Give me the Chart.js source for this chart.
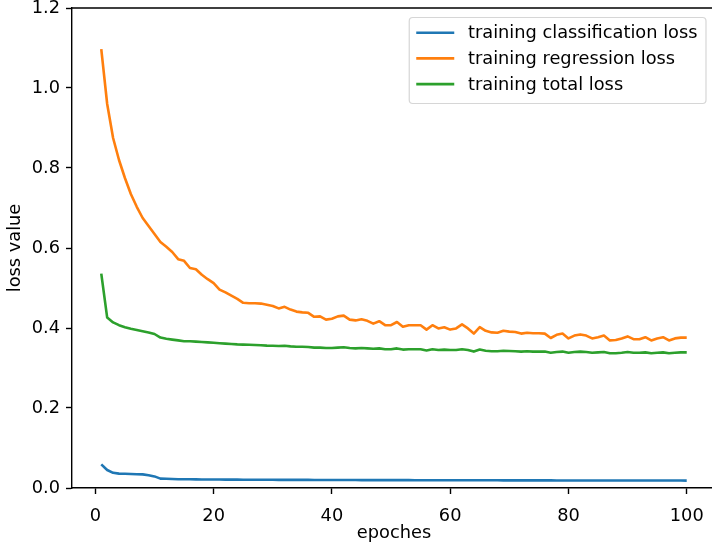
<!DOCTYPE html>
<html>
<head>
<meta charset="utf-8">
<script src="https://cdn.jsdelivr.net/npm/chart.js@4/dist/chart.umd.min.js"></script>
<style>
html,body{margin:0;padding:0;background:#fff;overflow:hidden;width:712px;height:548px;}
canvas{display:block;}
</style>
</head>
<body>
<canvas id="c" width="716" height="548"></canvas>
<script>
const epochs = Array.from({length: 100}, (_, i) => i + 1);
const seriesNames = ['training classification loss', 'training regression loss', 'training total loss'];
const xTicks = [0, 20, 40, 60, 80, 100];
const yTicks = [0, 0.2, 0.4, 0.6, 0.8, 1.0, 1.2];
const xLabel = 'epoches';
const yLabel = 'loss value';

const clsLoss = [0.059,0.045,0.038,0.036,0.0355,0.035,0.0345,0.034,0.032,0.029,
0.0235,0.023,0.0225,0.022,0.022,0.0218,0.0216,0.0214,0.0213,0.0212,
0.0211,0.021,0.021,0.0209,0.0208,0.0207,0.0207,0.0206,0.0205,0.0205,
0.0204,0.0204,0.0203,0.0203,0.0202,0.0202,0.0201,0.0201,0.0200,0.0200,
0.0200,0.0199,0.0199,0.0199,0.0198,0.0198,0.0198,0.0197,0.0197,0.0197,
0.0196,0.0196,0.0196,0.0195,0.0195,0.0195,0.0194,0.0194,0.0194,0.0194,
0.0193,0.0193,0.0193,0.0193,0.0192,0.0192,0.0192,0.0192,0.0191,0.0191,
0.0191,0.0191,0.0190,0.0190,0.0190,0.0190,0.0190,0.0189,0.0189,0.0189,
0.0189,0.0189,0.0188,0.0188,0.0188,0.0188,0.0188,0.0187,0.0187,0.0187,
0.0187,0.0187,0.0187,0.0186,0.0186,0.0186,0.0186,0.0186,0.0186,0.0185];

const regLoss = [1.097,0.960,0.875,0.820,0.775,0.735,0.703,0.675,0.655,0.635,
0.615,0.603,0.590,0.572,0.568,0.550,0.547,0.533,0.522,0.512,
0.496,0.489,0.481,0.473,0.463,0.462,0.462,0.461,0.458,0.455,
0.449,0.453,0.446,0.441,0.439,0.438,0.428,0.429,0.421,0.423,
0.429,0.431,0.421,0.419,0.422,0.418,0.411,0.417,0.407,0.407,
0.415,0.403,0.407,0.407,0.407,0.396,0.407,0.399,0.402,0.396,
0.399,0.409,0.399,0.386,0.402,0.393,0.389,0.388,0.393,0.391,
0.390,0.386,0.388,0.387,0.387,0.386,0.375,0.383,0.386,0.374,
0.381,0.384,0.381,0.374,0.377,0.381,0.369,0.370,0.374,0.379,
0.372,0.372,0.377,0.369,0.374,0.377,0.369,0.374,0.376,0.376];

const totalLoss = [0.536,0.426,0.414,0.407,0.402,0.398,0.395,0.392,0.389,0.385,
0.376,0.373,0.371,0.369,0.367,0.367,0.366,0.365,0.364,0.363,
0.362,0.361,0.360,0.359,0.3585,0.358,0.3575,0.357,0.356,0.3555,
0.355,0.3555,0.354,0.353,0.353,0.3525,0.351,0.351,0.350,0.350,
0.351,0.352,0.350,0.349,0.350,0.349,0.348,0.349,0.347,0.347,
0.349,0.346,0.347,0.347,0.347,0.344,0.347,0.345,0.346,0.345,
0.345,0.347,0.345,0.341,0.346,0.343,0.342,0.342,0.343,0.3425,
0.342,0.341,0.342,0.341,0.341,0.341,0.338,0.340,0.341,0.338,
0.340,0.341,0.340,0.338,0.339,0.340,0.337,0.337,0.338,0.340,
0.338,0.338,0.339,0.337,0.338,0.339,0.337,0.338,0.339,0.339];

const colors = ['#1f77b4', '#ff7f0e', '#2ca02c'];
const FONT = '"DejaVu Sans", sans-serif';
const FS = 17.8;

function mkData(vals){ return epochs.map((e, i) => ({x: e, y: vals[i]})); }

const mplFrame = {
  id: 'mplFrame',
  afterDatasetsDraw(chart){
    const {ctx, chartArea: a} = chart;
    ctx.save();
    ctx.strokeStyle = '#000';
    ctx.lineWidth = 1.4;
    ctx.beginPath();
    ctx.moveTo(a.left - 0.7, a.top);
    ctx.lineTo(a.right, a.top);
    ctx.moveTo(a.right - 0.3, a.top);
    ctx.lineTo(a.right - 0.3, a.bottom);
    ctx.stroke();
    // legend
    ctx.font = FS + 'px ' + FONT;
    const labels = chart.data.datasets.map(d => d.label);
    const tw = Math.max(...labels.map(t => ctx.measureText(t).width));
    const boxW = 58.7 + tw + 8.5;
    const boxH = 86;
    const right = a.right - 10;
    const left = right - boxW;
    const top = a.top + 9.5;
    const r = 3.5;
    ctx.beginPath();
    ctx.moveTo(left + r, top);
    ctx.lineTo(right - r, top);
    ctx.arcTo(right, top, right, top + r, r);
    ctx.lineTo(right, top + boxH - r);
    ctx.arcTo(right, top + boxH, right - r, top + boxH, r);
    ctx.lineTo(left + r, top + boxH);
    ctx.arcTo(left, top + boxH, left, top + boxH - r, r);
    ctx.lineTo(left, top + r);
    ctx.arcTo(left, top, left + r, top, r);
    ctx.closePath();
    ctx.fillStyle = 'rgba(255,255,255,0.8)';
    ctx.fill();
    ctx.strokeStyle = 'rgba(204,204,204,0.8)';
    ctx.lineWidth = 1.2;
    ctx.stroke();
    chart.data.datasets.forEach((d, i) => {
      const y = top + 15.2 + i * 25.7;
      ctx.strokeStyle = d.borderColor;
      ctx.lineWidth = 2.6;
      ctx.beginPath();
      ctx.moveTo(left + 7, y);
      ctx.lineTo(left + 45, y);
      ctx.stroke();
      ctx.fillStyle = '#000';
      ctx.textBaseline = 'middle';
      ctx.textAlign = 'left';
      ctx.fillText(d.label, left + 58.7, y + 1);
    });
    ctx.restore();
  }
};

new Chart(document.getElementById('c'), {
  type: 'line',
  data: {
    datasets: [
      {label: seriesNames[0], data: mkData(clsLoss), borderColor: colors[0], backgroundColor: colors[0], order: 3},
      {label: seriesNames[1], data: mkData(regLoss), borderColor: colors[1], backgroundColor: colors[1], order: 2},
      {label: seriesNames[2], data: mkData(totalLoss), borderColor: colors[2], backgroundColor: colors[2], order: 1}
    ]
  },
  options: {
    responsive: false,
    devicePixelRatio: 1,
    animation: false,
    events: [],
    layout: {padding: {left: 0, right: 0, top: 8, bottom: 0}},
    elements: {
      line: {borderWidth: 2.6, tension: 0, borderJoinStyle: 'round', borderCapStyle: 'butt', fill: false},
      point: {radius: 0}
    },
    plugins: {legend: {display: false}, tooltip: {enabled: false}},
    scales: {
      x: {
        type: 'linear',
        min: -3.95,
        max: 104.95,
        afterFit(s){ s.height = 60; s.paddingLeft = 0; s.paddingRight = 0; },
        afterBuildTicks(s){ s.ticks = xTicks.map(v => ({value: v})); },
        grid: {display: true, drawOnChartArea: false, drawTicks: true, tickLength: 6, tickWidth: 1.4, tickColor: '#000'},
        border: {display: true, color: '#000', width: 1.4},
        ticks: {color: '#000', font: {family: FONT, size: FS}, padding: 12, maxRotation: 0, autoSkip: false, callback: v => String(v)},
        title: {display: true, text: xLabel, color: '#000', font: {family: FONT, size: FS}, padding: {top: 0, bottom: 3.5}}
      },
      y: {
        type: 'linear',
        min: 0,
        max: 1.2,
        afterFit(s){ s.width = 72; s.paddingTop = 0; s.paddingBottom = 0; },
        afterBuildTicks(s){ s.ticks = yTicks.map(v => ({value: v})); },
        grid: {display: true, drawOnChartArea: false, drawTicks: true, tickLength: 6, tickWidth: 1.4, tickColor: '#000'},
        border: {display: true, color: '#000', width: 1.4},
        ticks: {color: '#000', font: {family: FONT, size: FS}, padding: 6, autoSkip: false, callback: v => v.toFixed(1)},
        title: {display: true, text: yLabel, color: '#000', font: {family: FONT, size: FS}, padding: {top: 5, bottom: 0}}
      }
    }
  },
  plugins: [mplFrame]
});
</script>
</body>
</html>
